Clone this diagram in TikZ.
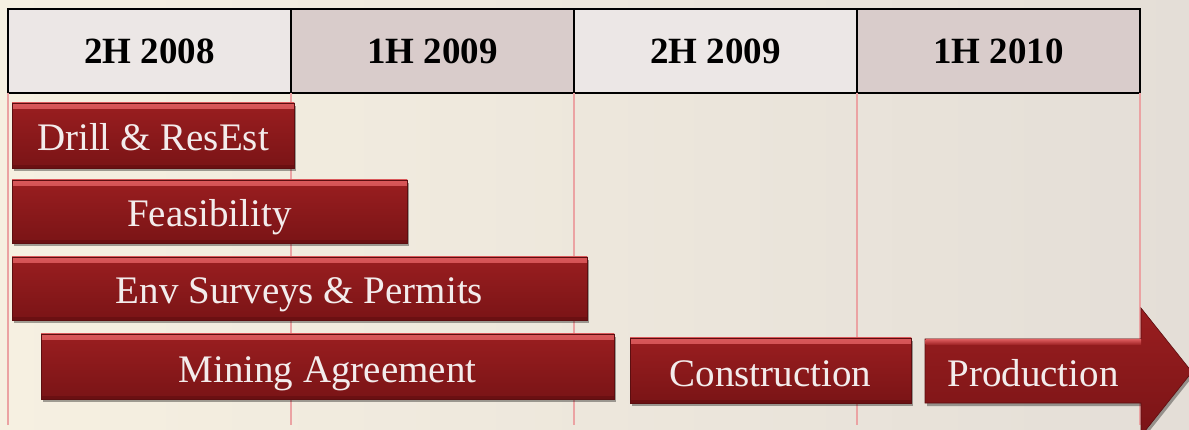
\documentclass[tikz,border=0pt]{standalone}
\usepackage{fontspec}
\setmainfont{Liberation Serif}
\usetikzlibrary{positioning, shadows}

\definecolor{bgleft}{HTML}{F6F0E1}
\definecolor{bgright}{HTML}{E4DED7}
\definecolor{celllight}{HTML}{ECE7E6}
\definecolor{celldark}{HTML}{D9CCCB}
\definecolor{gridpink}{HTML}{EBA3A3}
\definecolor{bartop}{HTML}{9A1E20}
\definecolor{barbot}{HTML}{7A1416}
\definecolor{barhi}{HTML}{D9585A}
\definecolor{barlow}{HTML}{5C0E10}
\definecolor{bartext}{HTML}{F3ECEC}

\tikzset{
  cell/.style={draw=black, line width=2.5pt, minimum width=283pt, minimum height=84pt,
    inner sep=0pt, outer sep=0pt, font=\bfseries\fontsize{37}{40}\selectfont},
  gridline/.style={draw=gridpink, line width=1.5pt},
  bartxt/.style={text=bartext, font=\fontsize{39}{42}\selectfont, text height=32pt, text depth=1pt},
  barshadow/.style={drop shadow={shadow xshift=2pt, shadow yshift=-3pt, opacity=0.35, fill=black}},
  bar/.style={anchor=north west, top color=bartop, bottom color=barbot, draw=barlow,
    line width=0.6pt, bartxt, inner sep=0pt, outer sep=0pt, barshadow,
    path picture={
      \shade[top color=barhi, bottom color=bartop]
        (path picture bounding box.north west) rectangle ([yshift=-6pt]path picture bounding box.north east);
      \fill[barlow, opacity=0.5]
        (path picture bounding box.south west) rectangle ([yshift=3pt]path picture bounding box.south east);
    }},
}

\begin{document}
\begin{tikzpicture}[x=1pt, y=-1pt]
    % Canvas and background
    \clip (0,0) rectangle (1189,430);
    \shade[left color=bgleft, right color=bgright] (0,0) rectangle (1189,430);

    % Half-year header
    \node[cell, fill=celllight, anchor=north west] (h1) at (8,9) {2H 2008};
    \node[cell, fill=celldark, right=0pt of h1] (h2) {1H 2009};
    \node[cell, fill=celllight, right=0pt of h2] (h3) {2H 2009};
    \node[cell, fill=celldark, right=0pt of h3] (h4) {1H 2010};

    % Period lines
    \coordinate (floor) at (0,425);
    \foreach \n in {1,...,4}
        \draw[gridline] (h\n.south west) -- (h\n.south west |- floor);
    \draw[gridline] (h4.south east) -- (h4.south east |- floor);

    % Activity bars
    \node[bar, minimum width=282, minimum height=65] (drill) at (12,103) {Drill \& ResEst};
    \node[bar, minimum width=395, minimum height=63] (feas) at (12,180) {Feasibility};
    \node[bar, minimum width=575, minimum height=63] (env) at (12,257) {Env Surveys \& Permits};
    \node[bar, minimum width=573, minimum height=65] (mining) at (41,334) {Mining Agreement};
    \node[bar, minimum width=281, minimum height=65] (constr) at (630,338) {Construction};

    % Production arrow
    \shade[top color=bartop, bottom color=barbot, draw=barlow, line width=0.6pt, barshadow]
        (925,339) -- (1141,339) -- (1141,308) -- (1192,372) -- (1141,436)
        -- (1141,403) -- (925,403) -- cycle;
    \shade[top color=barhi, bottom color=bartop] (925.5,339.5) rectangle (1141,345);
    \node[bartxt] (prod) at (1033,371) {Production};

\end{tikzpicture}
\end{document}
